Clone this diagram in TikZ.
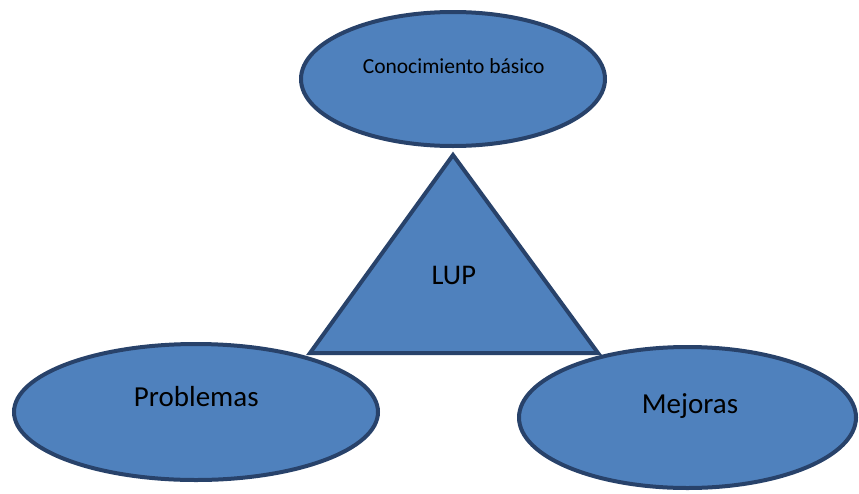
\documentclass[tikz,border=0pt]{standalone}
\usepackage{fontspec}
\setmainfont{Carlito}
\usetikzlibrary{shapes.geometric}
\definecolor{shapefill}{HTML}{4F81BD}
\definecolor{shapeline}{HTML}{28426A}
\tikzset{
  blob/.style={ellipse, draw=shapeline, fill=shapefill, line width=4pt, inner sep=0pt},
  lbl/.style={anchor=base, inner sep=0pt, text=black},
}
\begin{document}
\begin{tikzpicture}[x=1pt,y=-1pt]
\useasboundingbox (0,0) rectangle (859,493);
% triangle
\coordinate (apex) at (453,155);
\coordinate (bl) at (310,353);
\coordinate (br) at (598,353);
\draw[draw=shapeline, fill=shapefill, line width=4pt, line join=miter] (apex) -- (bl) -- (br) -- cycle;
\node[lbl, font=\fontsize{28.5}{30}\selectfont] (lup) at (453.8,284) {LUP};
% ellipses
\node[blob, minimum width=304pt, minimum height=134pt] (top) at (453,79) {};
\node[lbl, font=\fontsize{21.5}{24}\selectfont] (toplbl) at (453.7,73.3) {Conocimiento básico};
\node[blob, minimum width=364pt, minimum height=136pt] (left) at (196,412) {};
\node[lbl, font=\fontsize{29}{32}\selectfont] (leftlbl) at (196.3,406) {Problemas};
\node[blob, minimum width=337pt, minimum height=141pt] (right) at (687.5,417.5) {};
\node[lbl, font=\fontsize{29}{32}\selectfont] (rightlbl) at (690,413.3) {Mejoras};
\end{tikzpicture}
\end{document}
